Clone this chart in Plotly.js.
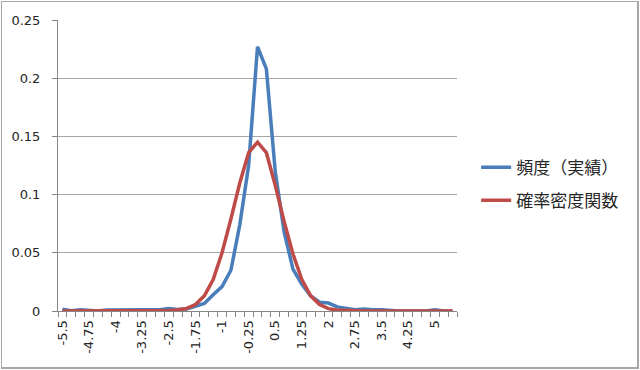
<!DOCTYPE html>
<html>
<head>
<meta charset="utf-8">
<script src="https://cdn.plot.ly/plotly-3.0.1.min.js"></script>
<style>
  html, body { margin: 0; padding: 0; background: #ffffff; }
  #wrap { position: relative; width: 640px; height: 370px; overflow: hidden; }
  #chart { position: absolute; left: 0; top: 0; width: 640px; height: 370px; }
  #frame { position: absolute; left: 1px; top: 1px; width: 635px; height: 365px;
           border-left: 1px solid #a6a6a6; border-top: 1px solid #a6a6a6;
           border-right: 2px solid #a6a6a6; border-bottom: 2px solid #a6a6a6;
           pointer-events: none; }
</style>
</head>
<body>
<div id="wrap">
  <div id="chart"></div>
  <div id="frame"></div>
</div>
<script>
// ---- data ----
var categories = ["-5.5","-5.25","-5","-4.75","-4.5","-4.25","-4","-3.75","-3.5","-3.25",
  "-3","-2.75","-2.5","-2.25","-2","-1.75","-1.5","-1.25","-1","-0.75",
  "-0.5","-0.25","0","0.25","0.5","0.75","1","1.25","1.5","1.75",
  "2","2.25","2.5","2.75","3","3.25","3.5","3.75","4","4.25",
  "4.5","4.75","5","5.25","5.5"];

var freqActual = [0.0015,0.0003,0.001,0.0002,0,0.0008,0.001,0.001,0.001,0.001,
  0.001,0.001,0.0022,0.0012,0.0018,0.0045,0.0065,0.014,0.021,0.035,
  0.074,0.125,0.227,0.208,0.12,0.068,0.036,0.023,0.013,0.0075,
  0.0068,0.0035,0.0022,0.001,0.0018,0.001,0.001,0.0003,0,0,
  0,0,0.001,0,0];

var densityFn = [0,0,0,0,0,0,0,0,0,0,
  0,0,0.0004,0.001,0.0022,0.0055,0.013,0.027,0.050,0.079,
  0.110,0.136,0.145,0.136,0.108,0.077,0.049,0.027,0.013,0.0055,
  0.002,0.0008,0.0003,0,0,0,0,0,0,0,
  0,0,0,0,0];

var seriesNames = ["頻度（実績）", "確率密度関数"];
var tickLabels = ["-5.5","-4.75","-4","-3.25","-2.5","-1.75","-1","-0.25","0.5","1.25","2","2.75","3.5","4.25","5"];

// tick text: show label only for the labelled categories
var tickText = categories.map(function (c) { return tickLabels.indexOf(c) >= 0 ? c : ""; });

var traces = [
  { x: categories, y: freqActual, name: seriesNames[0], type: "scatter", mode: "lines",
    legendgroup: "a", line: { color: "#4a7ebb", width: 3.5 } },
  { x: categories, y: densityFn, name: seriesNames[1], type: "scatter", mode: "lines",
    legendgroup: "b", line: { color: "#be4b48", width: 3.5 } }
];

var tickFont = { family: "DejaVu Sans", size: 13, color: "#262626" };

var layout = {
  width: 640, height: 370,
  margin: { l: 58, r: 183, t: 20, b: 59, pad: 0 },
  paper_bgcolor: "#ffffff", plot_bgcolor: "#ffffff",
  showlegend: true,
  legend: {
    x: 1.048, xanchor: "left", y: 0.436, yanchor: "middle",
    font: { family: "Noto Sans CJK JP", size: 17, color: "#262626" },
    tracegroupgap: 8, bgcolor: "rgba(0,0,0,0)", borderwidth: 0
  },
  xaxis: {
    type: "category", range: [-0.5, categories.length - 0.5],
    tickmode: "array", tickvals: categories, ticktext: tickText,
    tickson: "boundaries", ticks: "outside", ticklen: 5, tickcolor: "#868686", tickwidth: 1,
    ticklabelstandoff: 3,
    tickangle: -90, tickfont: tickFont,
    showgrid: false, zeroline: false,
    showline: true, linecolor: "#868686", linewidth: 1
  },
  yaxis: {
    range: [0, 0.25], dtick: 0.05, tick0: 0,
    ticks: "outside", ticklen: 5, tickcolor: "#868686", tickwidth: 1,
    ticklabelstandoff: 9, tickfont: tickFont,
    showgrid: true, gridcolor: "#a6a6a6", gridwidth: 1.2,
    zeroline: false, showline: true, linecolor: "#868686", linewidth: 1
  }
};

Plotly.newPlot("chart", traces, layout, { staticPlot: true, displayModeBar: false });
</script>
</body>
</html>
